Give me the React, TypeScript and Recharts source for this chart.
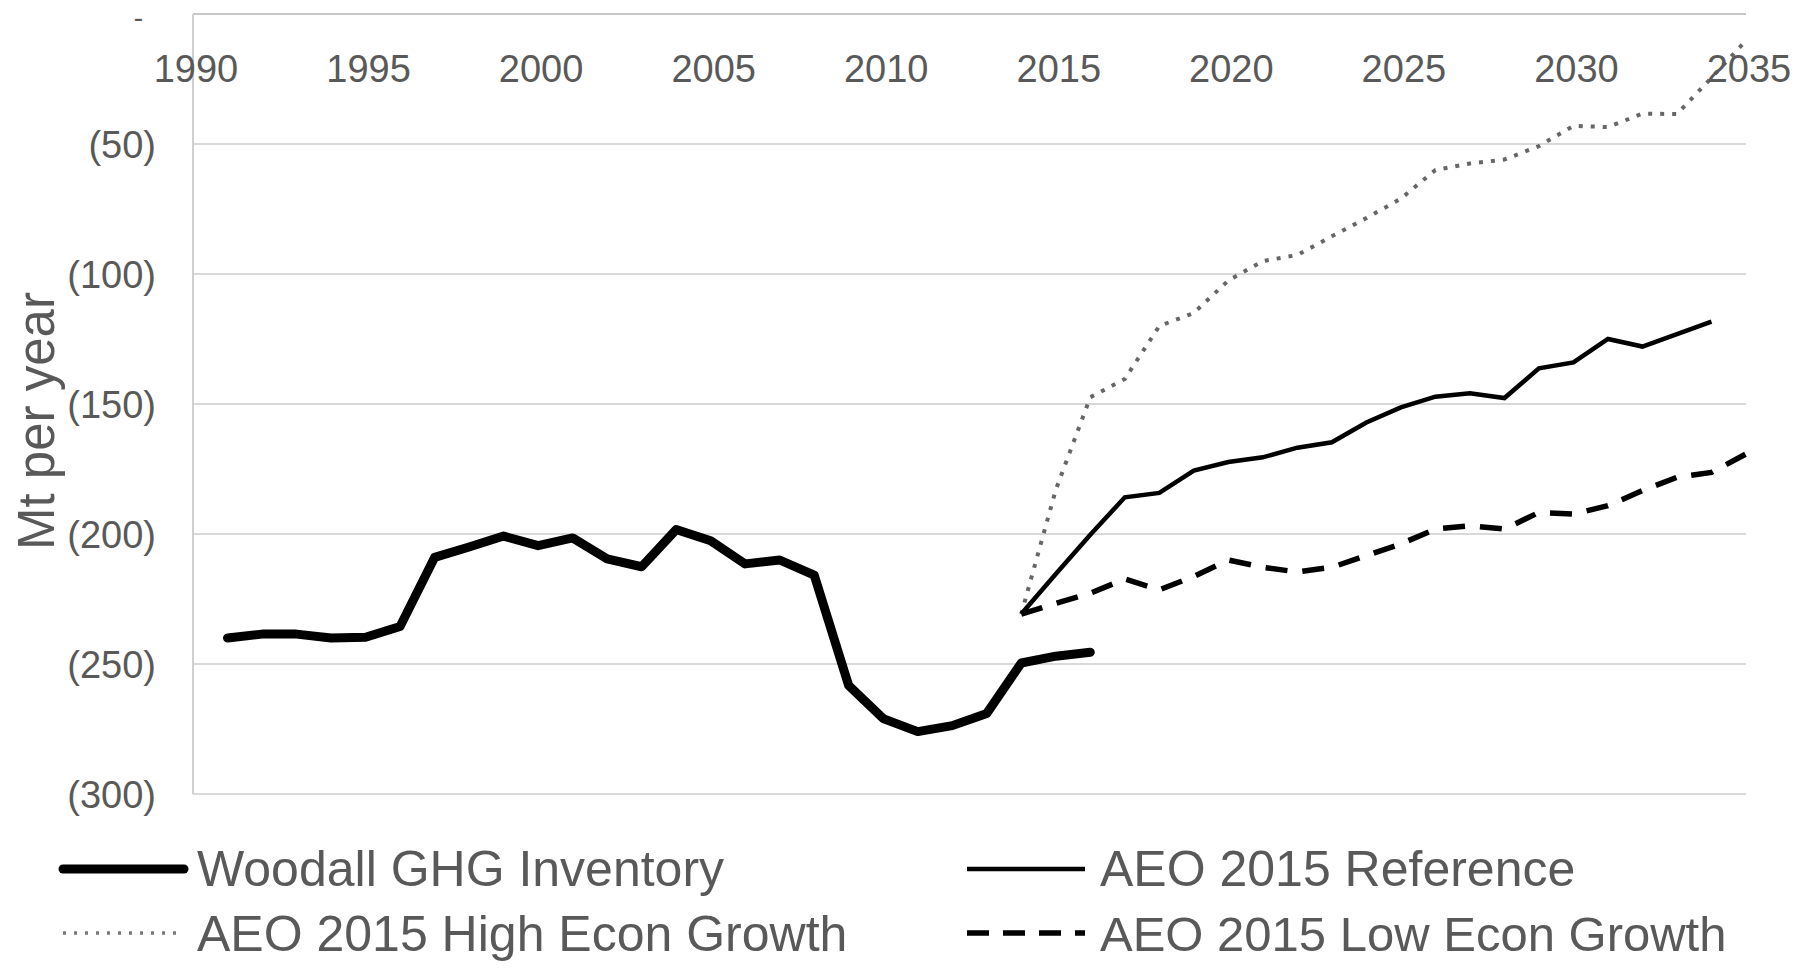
import React from 'react';
import { LineChart, Line, XAxis, YAxis, CartesianGrid } from 'recharts';

// categories (x axis years) and tick labels
const years = [
  1990, 1991, 1992, 1993, 1994, 1995, 1996, 1997, 1998, 1999,
  2000, 2001, 2002, 2003, 2004, 2005, 2006, 2007, 2008, 2009,
  2010, 2011, 2012, 2013, 2014, 2015, 2016, 2017, 2018, 2019,
  2020, 2021, 2022, 2023, 2024, 2025, 2026, 2027, 2028, 2029,
  2030, 2031, 2032, 2033, 2034, 2035,
];
const yearTicks = [1990, 1995, 2000, 2005, 2010, 2015, 2020, 2025, 2030, 2035];
const valueTicks = [0, -50, -100, -150, -200, -250, -300];

// Woodall GHG Inventory, 1991-2016
const INVENTORY_FIRST_YEAR = 1991;
const inventory = [
  -240, -238.5, -238.5, -240, -239.7, -235.6, -209, -205, -200.8, -204.5,
  -201.5, -209.6, -212.6, -198.3, -202.6, -211.5, -210, -215.8, -258.3, -271,
  -276, -273.7, -269, -249.6, -247, -245.5,
];

// AEO 2015 projections start in 2014
const PROJECTION_FIRST_YEAR = 2014;
const reference = [
  -230.8, -215.4, -200.3, -185.9, -184.2, -175.6, -172.3, -170.5, -166.8, -164.7,
  -157.1, -151.3, -147.2, -145.9, -147.7, -136.3, -134, -125, -127.9, -123.1,
  -118.3,
];
const highGrowth = [
  -230.8, -183, -147.4, -140.4, -120, -115, -102.5, -95, -92.7, -85.5,
  -78.5, -71, -60, -57.5, -56, -50.8, -43, -43.5, -38.3, -38.5,
  -24.5, -10.2,
];
const lowGrowth = [
  -230.8, -226.7, -222.8, -217.3, -221.5, -216.3, -210, -212.8, -214.6, -212.8,
  -208.3, -203.8, -198.1, -196.8, -198.1, -191.7, -192.3, -189.1, -183.3, -178.2,
  -176.3, -169.2,
];

const pick = (arr: number[], first: number, year: number) => {
  const v = arr[year - first];
  return v === undefined ? null : v;
};

const rows = years.map(year => ({
  year,
  inventory: pick(inventory, INVENTORY_FIRST_YEAR, year),
  reference: pick(reference, PROJECTION_FIRST_YEAR, year),
  high: pick(highGrowth, PROJECTION_FIRST_YEAR, year),
  low: pick(lowGrowth, PROJECTION_FIRST_YEAR, year),
}));

const FONT = '"Liberation Sans", Arial, sans-serif';
const TEXT = '#595959';

const formatValue = (v: number) => (v === 0 ? '-' : `(${Math.abs(v)})`);

function YearTick(props: any) {
  const { x, payload } = props;
  return (
    <text x={x + 3} y={82} textAnchor="middle" fill={TEXT} fontSize={38} fontFamily={FONT}>
      {payload.value}
    </text>
  );
}

function ValueTick(props: any) {
  const { y, payload } = props;
  if (payload.value === 0) {
    // accounting-style zero: a short dash, padded away from the axis
    return (
      <text x={143} y={y + 13} textAnchor="end" fill={TEXT} fontSize={28} fontFamily={FONT}>
        {formatValue(payload.value)}
      </text>
    );
  }
  return (
    <text x={156} y={y + 14} textAnchor="end" fill={TEXT} fontSize={38} fontFamily={FONT}>
      {formatValue(payload.value)}
    </text>
  );
}

function LegendBox() {
  return (
    <svg width={1800} height={171} style={{ position: 'absolute', left: 0, top: 800 }}>
      <line x1={63} x2={184} y1={69} y2={69} stroke="#000" strokeWidth={9} strokeLinecap="round" />
      <text x={197} y={86} fill={TEXT} fontSize={50} fontFamily={FONT}>Woodall GHG Inventory</text>
      <line x1={967} x2={1085} y1={69} y2={69} stroke="#000" strokeWidth={4.5} />
      <text x={1100} y={86} fill={TEXT} fontSize={50} fontFamily={FONT}>AEO 2015 Reference</text>
      <line x1={63} x2={176} y1={133} y2={133} stroke="#7a7a7a" strokeWidth={3.5} strokeDasharray="3 8" />
      <text x={197} y={151} fill={TEXT} fontSize={50} fontFamily={FONT}>AEO 2015 High Econ Growth</text>
      <line x1={967} x2={1085} y1={133} y2={133} stroke="#000" strokeWidth={5.5} strokeDasharray="22 14" />
      <text x={1100} y={151} fill={TEXT} fontSize={49} fontFamily={FONT}>AEO 2015 Low Econ Growth</text>
    </svg>
  );
}

export default function App() {
  return (
    <div style={{ position: 'absolute', left: 0, top: 0, width: 1800, height: 971, background: '#fff' }}>
      <LineChart width={1800} height={971} data={rows} margin={{ top: 13, right: 54, bottom: 177, left: 0 }}>
        <CartesianGrid vertical={false} stroke="#d9d9d9" strokeWidth={2} />
        <XAxis
          dataKey="year"
          type="number"
          orientation="top"
          domain={[1990, 2035]}
          ticks={yearTicks}
          height={1}
          tickLine={false}
          axisLine={{ stroke: '#c8c8c8', strokeWidth: 2 }}
          tick={<YearTick />}
          interval={0}
        />
        <YAxis
          type="number"
          domain={[-300, 0]}
          ticks={valueTicks}
          width={193}
          tickLine={false}
          axisLine={{ stroke: '#d0d0d0', strokeWidth: 2 }}
          tick={<ValueTick />}
          interval={0}
        />
        <Line
          dataKey="high"
          stroke="#666666"
          strokeWidth={4}
          strokeDasharray="4 8"
          dot={false}
          isAnimationActive={false}
        />
        <Line
          dataKey="low"
          stroke="#000"
          strokeWidth={5.5}
          strokeDasharray="22 15"
          dot={false}
          isAnimationActive={false}
        />
        <Line dataKey="reference" stroke="#000" strokeWidth={4.5} dot={false} isAnimationActive={false} />
        <Line
          dataKey="inventory"
          stroke="#000"
          strokeWidth={9}
          strokeLinejoin="round"
          strokeLinecap="round"
          dot={false}
          isAnimationActive={false}
        />
        <text
          x={54}
          y={421}
          transform="rotate(-90 54 421)"
          textAnchor="middle"
          fill={TEXT}
          fontSize={51}
          fontFamily={FONT}
        >
          Mt per year
        </text>
      </LineChart>
      <LegendBox />
    </div>
  );
}
